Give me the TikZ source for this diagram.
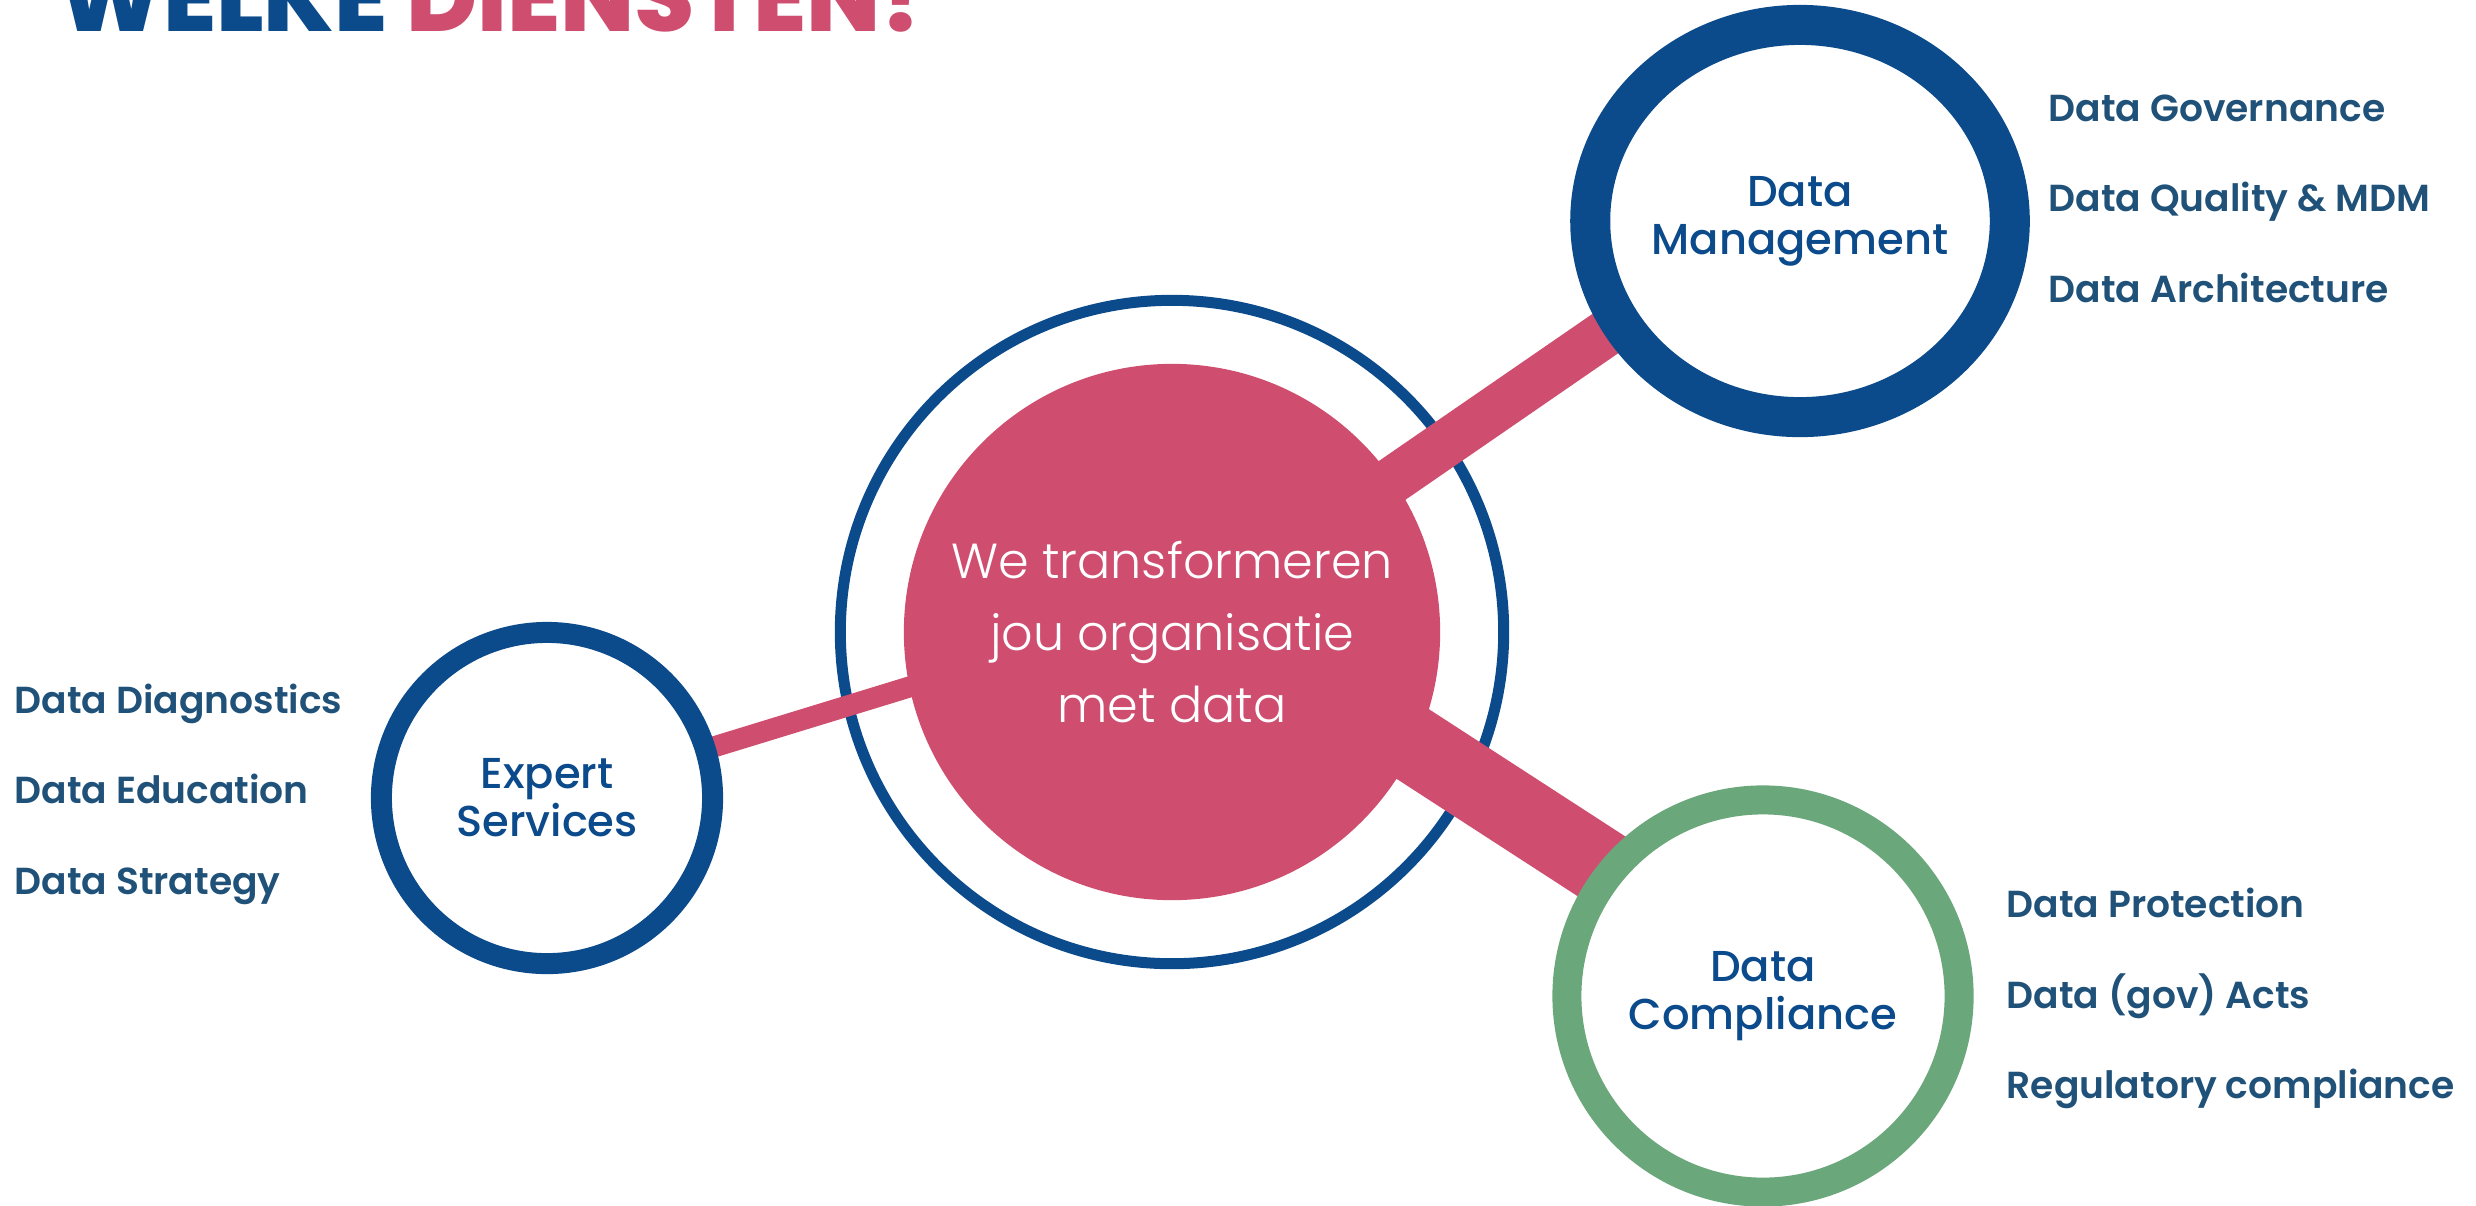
\documentclass[tikz,border=0pt]{standalone}
\usepackage{fontspec}
\setmainfont{Poppins}
\newfontfamily\poplight{Poppins Light}
\newfontfamily\popmed{Poppins Medium}
\newfontfamily\popsemi{Poppins SemiBold}
\newfontfamily\popxbold{Poppins ExtraBold}
\usetikzlibrary{backgrounds,shapes.geometric}

\definecolor{dblue}{HTML}{0B4A8B}
\definecolor{lblue}{HTML}{1F5179}
\definecolor{dpink}{HTML}{CF4E70}
\definecolor{dgreen}{HTML}{6AA77A}

\tikzset{
    hub/.style={circle, fill=dpink, inner sep=0pt, minimum size=5.36cm, text=white,
                align=center, font=\poplight\fontsize{14}{20.5}\selectfont},
    hubring/.style={circle, draw=dblue, line width=0.11cm, minimum size=6.63cm},
    pillar/.style={draw, fill=white, inner sep=0pt, text=dblue, align=center,
                   font=\popmed\fontsize{12.3}{13.7}\selectfont},
    band/.style={draw=dpink, line width=#1},
    item/.style={anchor=base west, inner sep=0pt, text=lblue,
                 font=\popsemi\fontsize{10.7}{12}\selectfont}
}

\begin{document}
\begin{tikzpicture}[x=0.01cm, y=-0.01cm]
    \useasboundingbox (0,0) rectangle (2476,1205);
    \clip (0,0) rectangle (2476,1205);

    % title, cut off at the top
    \node[anchor=base west, inner sep=0pt, font=\popxbold\fontsize{27.6}{30}\selectfont]
        (title) at (58,31) {\textcolor{dblue}{WELKE} \textcolor{dpink}{DIENSTEN?}};

    \node[hub] (core) at (1172,632) {We transformeren\\jou organisatie\\met data};

    \node[pillar, ellipse, draw=dblue, line width=0.40cm, minimum width=4.16cm, minimum height=3.92cm]
        (dm) at (1800,221) {Data\\Management};
    \node[pillar, circle, draw=dblue, line width=0.21cm, minimum size=3.31cm]
        (es) at (547,798) {Expert\\Services};
    \node[pillar, circle, draw=dgreen, line width=0.29cm, minimum size=3.92cm]
        (dc) at (1763,996) {Data\\Compliance};

    \begin{pgfonlayer}{background}
        \node[hubring] (ring) at (core) {};
        \draw[band=0.47cm] (core.center) -- ([yshift=0.215cm]dm.center);
        \draw[band=0.21cm] ([yshift=0.255cm]core.center) -- (es.center);
        \draw[band=0.76cm] ([yshift=0.44cm]core.center) -- ([yshift=0.25cm]dc.center);
    \end{pgfonlayer}

    \node[item] (dm1) at (2048,121) {Data Governance};
    \node[item] (dm2) at (2048,211) {Data Quality \& MDM};
    \node[item] (dm3) at (2048,302) {Data Architecture};

    \node[item] (es1) at (14,713) {Data Diagnostics};
    \node[item] (es2) at (14,803) {Data Education};
    \node[item] (es3) at (14,894) {Data Strategy};

    \node[item] (dc1) at (2006,917) {Data Protection};
    \node[item] (dc2) at (2006,1008) {Data (gov) Acts};
    \node[item] (dc3) at (2006,1098) {Regulatory compliance};
\end{tikzpicture}
\end{document}
